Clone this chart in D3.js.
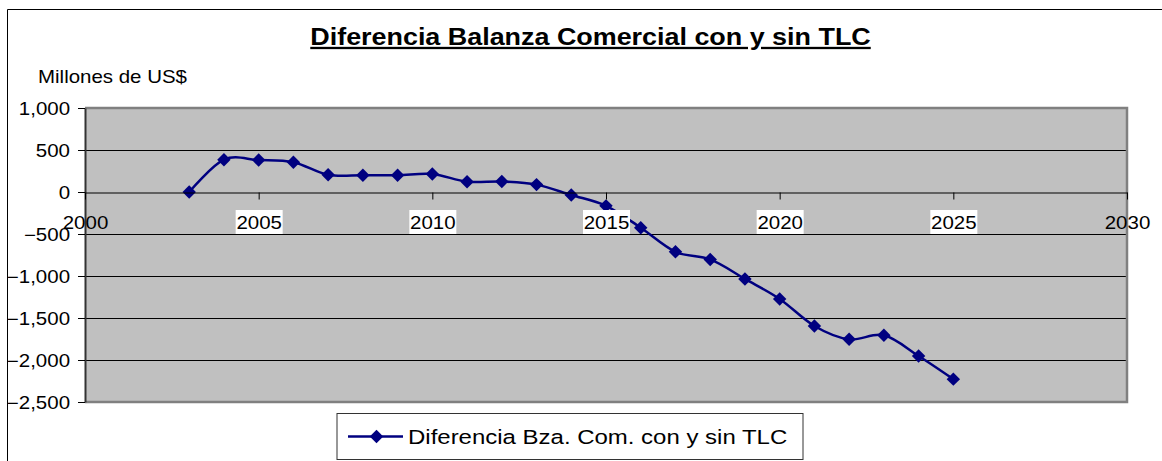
<!DOCTYPE html>
<meta charset='utf-8'>
<style>
body { margin: 0; background: #fff; }
svg text { font-family: 'Liberation Sans', Arial, sans-serif; fill: #000; }
</style>
<script src='https://cdn.jsdelivr.net/npm/d3@7/dist/d3.min.js'></script>
<body>
<script>
'use strict'

// Data
let years = [2003, 2004, 2005, 2006, 2007, 2008, 2009, 2010, 2011, 2012, 2013, 2014,
		2015, 2016, 2017, 2018, 2019, 2020, 2021, 2022, 2023, 2024, 2025],
	diff = [0, 385, 380, 355, 205, 200, 200, 215, 122, 125, 88, -36,
		-165, -425, -712, -803, -1035, -1273, -1595, -1754, -1706, -1952, -2228],
	x_ticks = [2000, 2005, 2010, 2015, 2020, 2025, 2030],
	y_ticks = [1000, 500, 0, -500, -1000, -1500, -2000, -2500],
	title = 'Diferencia Balanza Comercial con y sin TLC',
	y_title = 'Millones de US$',
	series_name = 'Diferencia Bza. Com. con y sin TLC'

let W = 1162, H = 461,
	plot = {left: 85, right: 1127, top: 108, bottom: 402},
	sx = 1.17, // text in the picture is stretched wide
	navy = '#000080'

let svg = d3.select('body').append('svg').attr('width', W).attr('height', H)

// outer chart frame (runs off the picture to the right and bottom)
svg.append('path').attr('d', `M7.5,${H + 5}V9.5H${W + 5}`)
	.attr('fill', 'none').attr('stroke', '#000').attr('stroke-width', 1)

let x = d3.scaleLinear([2000, 2030], [plot.left, plot.right]),
	y = d3.scaleLinear([-2500, 1000], [plot.bottom, plot.top])

let stretched = (sel, size, weight) => sel
	.style('font-size', `${size}px`).style('font-weight', weight || 'normal')

// title
let t = svg.append('text')
	.attr('transform', `translate(590.5,45) scale(${sx},1)`)
	.attr('text-anchor', 'middle').style('text-decoration', 'underline')
	.text(title)
stretched(t, 23, 'bold')

let yt = svg.append('text')
	.attr('transform', `translate(38,83) scale(${sx},1)`)
	.text(y_title)
stretched(yt, 17.5)

// plot area
svg.append('rect')
	.attr('x', plot.left).attr('y', plot.top)
	.attr('width', plot.right - plot.left).attr('height', plot.bottom - plot.top)
	.attr('fill', '#c0c0c0')

svg.append('g').selectAll('line')
	.data(y_ticks.filter(v => v != 0 && v != -2500 && v != 1000))
	.join('line')
		.attr('x1', plot.left).attr('x2', plot.right)
		.attr('y1', d => Math.round(y(d)) + .5).attr('y2', d => Math.round(y(d)) + .5)
		.attr('stroke', '#000').attr('stroke-width', 1)

svg.append('path')
	.attr('d', `M${plot.left},${plot.top}H${plot.right}V${plot.bottom}H${plot.left}`)
	.attr('fill', 'none').attr('stroke', '#808080').attr('stroke-width', 2.5)

// y axis
let gy = svg.append('g').attr('transform', `translate(${plot.left},0)`)
	.call(d3.axisLeft(y).tickValues(y_ticks).tickFormat(d3.format(',')).tickSize(7).tickSizeOuter(0).tickPadding(8))
gy.select('.domain').attr('stroke', '#333').attr('stroke-width', 2)
gy.selectAll('.tick line').attr('stroke', '#000')
gy.selectAll('.tick text')
	.attr('x', -15 / sx).attr('dy', '.35em')
	.attr('transform', `scale(${sx},1)`)
	.call(s => stretched(s, 17.5))

// data line
let line = d3.line().x((d, i) => x(years[i])).y(d => y(d)).curve(d3.curveCardinal.tension(0))
svg.append('path').datum(diff)
	.attr('d', line).attr('fill', 'none')
	.attr('stroke', navy).attr('stroke-width', 2.5)

let diamond = d3.symbol(d3.symbolDiamond2, 115)
svg.append('g').selectAll('path')
	.data(diff)
	.join('path')
		.attr('transform', (d, i) => `translate(${x(years[i])},${y(d)})`)
		.attr('d', diamond).attr('fill', navy)

// x axis on the zero line, labels on top of the line
let gx = svg.append('g').attr('transform', `translate(0,${Math.round(y(0)) + .5})`)
	.call(d3.axisBottom(x).tickValues(x_ticks).tickFormat(d3.format('d')).tickSize(7).tickSizeOuter(0))
gx.select('.domain').attr('stroke', '#000')
gx.selectAll('.tick line').attr('stroke', '#000')
gx.selectAll('.tick').filter(d => d > 2000 && d < 2030)
	.insert('rect', 'text')
		.attr('x', -23.5).attr('y', 17.5).attr('width', 47).attr('height', 24)
		.attr('fill', '#fff')
gx.selectAll('.tick text')
	.attr('y', 30).attr('dy', '.35em').attr('x', 0)
	.attr('transform', `scale(${sx},1)`)
	.call(s => stretched(s, 17.5))

// legend
let lg = svg.append('g').attr('transform', 'translate(337,413.5)')
lg.append('rect').attr('width', 466).attr('height', 46)
	.attr('fill', '#fff').attr('stroke', '#333').attr('stroke-width', 1)
lg.append('line').attr('x1', 11).attr('x2', 66).attr('y1', 23).attr('y2', 23)
	.attr('stroke', navy).attr('stroke-width', 2.5)
lg.append('path').attr('transform', 'translate(39.5,23)')
	.attr('d', diamond).attr('fill', navy)
let lt = lg.append('text')
	.attr('transform', `translate(71,23) scale(${sx},1)`)
	.attr('dy', '.35em').text(series_name)
stretched(lt, 20.5)
</script>
